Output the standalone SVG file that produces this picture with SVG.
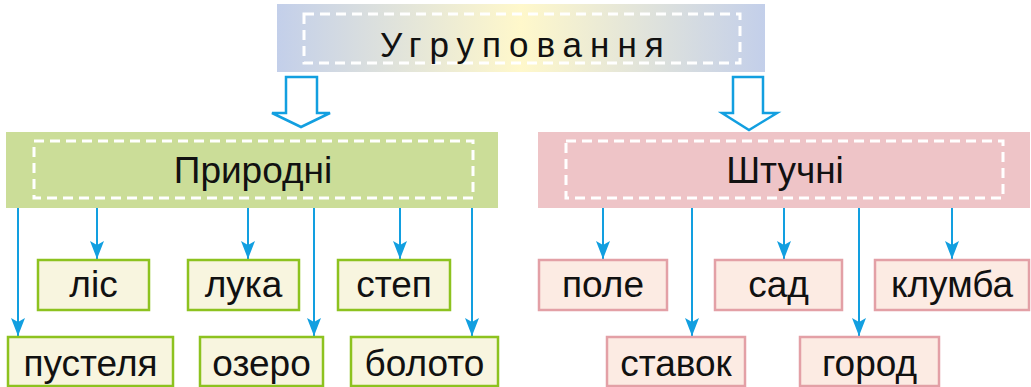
<svg xmlns="http://www.w3.org/2000/svg" width="1031" height="387" viewBox="0 0 1031 387">
<style>
.dash{fill:none;stroke:#fff;stroke-width:3;stroke-dasharray:10 6}
.t{font-family:"Liberation Sans",Arial,sans-serif;font-size:37px;fill:#111;text-anchor:middle}
.g{fill:#f8f5df;stroke:#8dc21f;stroke-width:2.5}
.p{fill:#fcebe3;stroke:#e3a0a6;stroke-width:2.5}
.c{stroke:#129fe0;stroke-width:2;fill:none;marker-end:url(#ah)}
.big{fill:#fff;stroke:#129fe0;stroke-width:2.5;stroke-linejoin:miter}
</style>
<defs>
<linearGradient id="tg" x1="0" y1="0" x2="1" y2="0">
<stop offset="0" stop-color="#c3cfea"/>
<stop offset="0.5" stop-color="#fff8cb"/>
<stop offset="1" stop-color="#c3cfea"/>
</linearGradient>
<marker id="ah" markerWidth="18" markerHeight="14" refX="18" refY="7" orient="auto" markerUnits="userSpaceOnUse" viewBox="0 0 18 14">
<path d="M0,0 L18,7 L0,14 L4,7 Z" fill="#129fe0"/>
</marker>
</defs>
<g id="top">
<rect x="277" y="4" width="488" height="68" fill="url(#tg)"/>
<rect class="dash" x="304" y="14" width="436" height="49"/>
<text x="380" y="57" font-family="Liberation Sans,Arial,sans-serif" font-size="35" letter-spacing="8" fill="#111">Угруповання</text>
</g>
<g id="natural">
<rect x="6" y="132" width="492" height="76" fill="#cbdd98"/>
<rect class="dash" x="34" y="141" width="439" height="57"/>
<text class="t" x="253" y="183">Природні</text>
</g>
<g id="artificial">
<rect x="538" y="132" width="492" height="76" fill="#eec4c7"/>
<rect class="dash" x="566" y="141" width="437" height="57"/>
<text class="t" x="785" y="183">Штучні</text>
</g>
<g id="big-arrows">
<path class="big" d="M286,77 H317 V113 H330 L301,127 L272,113 H286 Z"/>
<path class="big" d="M733,77 H763 V113 H777 L749,130 L722,113 H733 Z"/>
</g>
<g id="connectors">
<line class="c" x1="18" y1="208" x2="18" y2="336"/>
<line class="c" x1="97" y1="208" x2="97" y2="259"/>
<line class="c" x1="248" y1="208" x2="248" y2="259"/>
<line class="c" x1="314" y1="208" x2="314" y2="336"/>
<line class="c" x1="400" y1="208" x2="400" y2="259"/>
<line class="c" x1="472" y1="208" x2="472" y2="336"/>
<line class="c" x1="603" y1="208" x2="603" y2="259"/>
<line class="c" x1="692" y1="208" x2="692" y2="336"/>
<line class="c" x1="784" y1="208" x2="784" y2="259"/>
<line class="c" x1="859" y1="208" x2="859" y2="336"/>
<line class="c" x1="952" y1="208" x2="952" y2="259"/>
</g>
<g id="lis"><rect class="g" x="38" y="260" width="111" height="50"/><text class="t" x="93.5" y="297">ліс</text></g>
<g id="luka"><rect class="g" x="188" y="260" width="111" height="50"/><text class="t" x="243.5" y="297">лука</text></g>
<g id="step"><rect class="g" x="338" y="260" width="112" height="50"/><text class="t" x="394" y="297">степ</text></g>
<g id="pustelia"><rect class="g" x="8" y="337" width="165" height="49"/><text class="t" x="90.5" y="376">пустеля</text></g>
<g id="ozero"><rect class="g" x="200" y="337" width="123" height="49"/><text class="t" x="261.5" y="376">озеро</text></g>
<g id="boloto"><rect class="g" x="351" y="337" width="147" height="49"/><text class="t" x="424.5" y="376">болото</text></g>
<g id="pole"><rect class="p" x="539" y="260" width="128" height="50"/><text class="t" x="603" y="297">поле</text></g>
<g id="sad"><rect class="p" x="715" y="260" width="127" height="50"/><text class="t" x="778.5" y="297">сад</text></g>
<g id="klumba"><rect class="p" x="875" y="260" width="154" height="50"/><text class="t" x="952" y="297">клумба</text></g>
<g id="stavok"><rect class="p" x="607" y="337" width="138" height="49"/><text class="t" x="676" y="376">ставок</text></g>
<g id="gorod"><rect class="p" x="800" y="337" width="139" height="49"/><text class="t" x="869.5" y="376">город</text></g>
</svg>
